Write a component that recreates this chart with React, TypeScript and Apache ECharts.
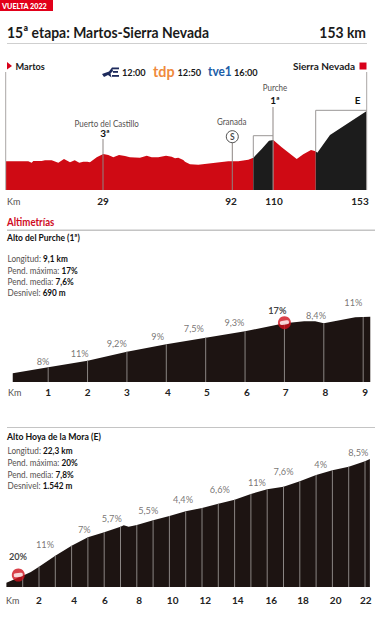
import React, { useEffect, useRef } from "react";
import * as echarts from "echarts";

const FONT = "Lato, 'Noto Sans', sans-serif";
const RED = "#cf0a14";
const DARK = "#1d1412";
const GREY = "#55514f";

// Stage profile: distance is the position along the (non-linear) drawn profile, elevation in metres
const stageDist = [0, 22.3, 25.7, 27.3, 35.7, 39, 45.7, 52.3, 58, 64, 68.7, 73.3, 77.3, 81.3, 84, 90.7, 97.3, 102.3, 107.3, 113, 119, 124, 134, 140.7, 145.7, 152.3, 160, 165.7, 169, 172.3, 177.3, 179, 184, 192.3, 222.3, 232.3, 242.3, 247.3, 255.7, 263, 267.3, 275.7, 290.7, 297.3, 305, 309.7, 311.3, 324, 360.7];
const stageElev = [918, 918, 874, 928, 928, 950, 950, 874, 992, 886, 950, 874, 906, 906, 886, 1046, 1152, 1120, 1046, 1120, 1088, 1046, 1034, 1098, 1046, 1046, 1098, 1066, 1014, 1034, 960, 906, 822, 810, 918, 918, 970, 1034, 1312, 1578, 1600, 1366, 992, 1142, 1280, 1238, 1194, 1760, 2528];
const stageClimbs = [[247.3, 267.3], [309.7, 360.7]];
const stageTickAt = [97, 225, 268, 354];
const stageTickNames = ["29", "92", "110", "153"];

// Stage furniture, in axis units [distance, elevation]
const stageFrame = [[[-0.3, 0], [-0.3, 3776]], [[360.7, 0], [360.7, 3776]]];
const stageLeaders = [[[97, 0], [97, 1632]], [[226.3, 0], [226.3, 1504]], [[267, 0], [267, 2656]]];
const stageBrackets = [
  [[247.3, 1034], [247.3, 1738], [267, 1738]],
  [[309.7, 1238], [309.7, 2550], [360.7, 2550]],
];
const sprintAt = [226.3, 1706];

// Alto del Purche
const purcheKm = [0.1, 1, 2, 3, 4, 5, 6, 7, 7.5, 7.78, 8, 8.8, 9, 9.18];
const purcheElev = [104, 176, 256, 364, 452, 532, 608, 704, 728, 728, 704, 776, 780, 784];
const purcheGridKm = [1, 2, 3, 4, 5, 6, 7, 8, 9];
const purcheTickAt = [1, 2, 3, 4.04, 5.03, 6.05, 7.03, 8.04, 9.05];
const purcheTickNames = ["1", "2", "3", "4", "5", "6", "7", "8", "9"];
const purcheGradeKm = [0.87, 1.8, 2.74, 3.78, 4.7, 5.73, 6.82, 7.8, 8.75];
const purcheGradeY = [244, 344, 464, 552, 640, 712, 864, 804, 952];
const purcheGrades = ["8%", "11%", "9,2%", "9%", "7,5%", "9,3%", "17%", "8,4%", "11%"];
const purcheSign = [7, 712];
const purcheStats = [["Longitud:", "9,1 km"], ["Pend. máxima:", "17%"], ["Pend. media:", "7,6%"], ["Desnivel:", "690 m"]];

// Alto Hoya de la Mora
const hoyaKm = [0, 1, 1.5, 2, 3, 4, 5, 6, 7, 7.2, 7.5, 8, 9, 10, 11, 12, 13, 14, 15, 16, 17, 18, 19, 20, 21, 22, 22.3];
const hoyaElev = [54, 140, 188, 254, 391, 516, 621, 684, 754, 771, 754, 775, 834, 888, 946, 988, 1041, 1091, 1163, 1221, 1254, 1321, 1400, 1459, 1504, 1571, 1600];
const hoyaGridKm = [1, 2, 3, 4, 5, 6, 7, 8, 9, 10, 11, 12, 13, 14, 15, 16, 17, 18, 19, 20, 21, 22];
const hoyaTickAt = [2, 4.15, 6.05, 8.15, 10.2, 12.2, 14.2, 16.25, 18.2, 20.2, 22.05];
const hoyaTickNames = ["2", "4", "6", "8", "10", "12", "14", "16", "18", "20", "22"];
const hoyaGradeKm = [0.71, 2.37, 4.78, 6.46, 8.7, 10.83, 13.09, 15.37, 17.0, 19.28, 21.59];
const hoyaGradeY = [379, 534, 725, 859, 959, 1088, 1216, 1304, 1450, 1534, 1684];
const hoyaGrades = ["20%", "11%", "7%", "5,7%", "5,5%", "4,4%", "6,6%", "11%", "7,6%", "4%", "8,5%"];
const hoyaSign = [0.73, 150];
const hoyaStats = [["Longitud:", "22,3 km"], ["Pend. máxima:", "20%"], ["Pend. media:", "7,8%"], ["Desnivel:", "1.542 m"]];

const statRich = {
  a: { fontFamily: FONT, fontSize: 10, fill: GREY, color: GREY },
  b: { fontFamily: FONT, fontSize: 10, fontWeight: 700, fill: "#111", color: "#111" },
};

function txt(x: number, y: number, text: string, size: number, weight: number | string, fill: string, align = "left", scaleX = 1) {
  return {
    type: "text", x, y, scaleX, silent: true,
    style: { text, fontFamily: FONT, fontSize: size, fontWeight: weight, fill, textAlign: align, textVerticalAlign: "middle" },
  };
}
function statBlock(stats: string[][], ys: number[]) {
  return stats.map((s, i) => ({
    type: "text", x: 7.5, y: ys[i], scaleX: 0.82, silent: true,
    style: { text: `{a|${s[0]}} {b|${s[1]}}`, rich: statRich, fontFamily: FONT, fontSize: 10, verticalAlign: "middle", textVerticalAlign: "middle" },
  }));
}
function seg(name: string, idx: number, data: number[][], color: string, width: number, z = 5) {
  return { name, type: "line", xAxisIndex: idx, yAxisIndex: idx, data, symbol: "none", silent: true, clip: false, z, lineStyle: { color, width }, tooltip: { show: false } };
}
function area(name: string, idx: number, data: number[][], color: string) {
  return { name, type: "line", xAxisIndex: idx, yAxisIndex: idx, data, symbol: "none", silent: true, z: 3, lineStyle: { width: 0 }, areaStyle: { color, opacity: 1 } };
}
function xAxis(idx: number, min: number, max: number, at: number[], names: string[], margin: number) {
  return {
    type: "value", gridIndex: idx, min, max,
    axisLine: { show: false }, axisTick: { show: false }, splitLine: { show: false },
    axisLabel: {
      show: true, customValues: at, margin, fontFamily: FONT, fontSize: 10, fontWeight: 700, color: "#222",
      hideOverlap: false,
      formatter: (v: number) => names[at.indexOf(v)] ?? "",
    },
  };
}
function yAxis(idx: number, max: number) {
  return { type: "value", gridIndex: idx, min: 0, max, show: false };
}
function grades(idx: number, kms: number[], ys: number[], labels: string[], boldLabel: string, boldKm: number) {
  return {
    type: "scatter", xAxisIndex: idx, yAxisIndex: idx, symbolSize: 0, silent: true, z: 8, clip: false,
    data: kms.map((k, i) => ({
      value: [k, ys[i]],
      label: {
        show: true, position: "inside", formatter: labels[i], fontFamily: FONT, fontSize: 9.2,
        fontWeight: labels[i] === boldLabel && k === boldKm ? 700 : 400,
        color: labels[i] === boldLabel && k === boldKm ? "#111" : GREY,
      },
    })),
  };
}
function sign(idx: number, p: number[]) {
  return [
    { type: "scatter", xAxisIndex: idx, yAxisIndex: idx, data: [p], symbol: "circle", symbolSize: 13, silent: true, z: 9, itemStyle: { color: "#d0101c" } },
    { type: "scatter", xAxisIndex: idx, yAxisIndex: idx, data: [p], symbol: "roundRect", symbolSize: [9, 4], symbolRotate: 8, silent: true, z: 10, itemStyle: { color: "#fff" } },
  ];
}

export default function App() {
  const ref = useRef<HTMLDivElement>(null);
  useEffect(() => {
    const chart = echarts.init(ref.current!, null, { renderer: "svg" });
    const stagePts = stageDist.map((d, i) => [d, stageElev[i]]);
    const inRange = (a: number, b: number) => stagePts.filter((p) => p[0] >= a && p[0] <= b);
    const purchePts = purcheKm.map((d, i) => [d, purcheElev[i]]);
    const hoyaPts = hoyaKm.map((d, i) => [d, hoyaElev[i]]);
    const lookup = (pts: number[][], k: number) => pts.find((p) => p[0] === k)![1];

    const series: any[] = [
      area("stage1", 0, inRange(0, stageClimbs[0][0]), RED),
      area("climb1", 0, inRange(stageClimbs[0][0], stageClimbs[0][1]), "#1c1c1c"),
      area("stage2", 0, inRange(stageClimbs[0][1], stageClimbs[1][0]), RED),
      area("climb2", 0, inRange(stageClimbs[1][0], stageClimbs[1][1]), "#1c1c1c"),
      ...stageFrame.map((d, i) => seg("frame" + i, 0, d, "#aaa7a5", 1)),
      ...stageLeaders.map((d, i) => seg("leader" + i, 0, d, "#8d8583", 1)),
      ...stageBrackets.map((d, i) => seg("bracket" + i, 0, d, "#9a9796", 1)),
      {
        type: "scatter", xAxisIndex: 0, yAxisIndex: 0, data: [sprintAt], symbol: "circle", symbolSize: 12, silent: true, z: 9,
        itemStyle: { color: "#fff", borderColor: "#222", borderWidth: 1 },
        label: { show: true, position: "inside", formatter: "S", fontFamily: FONT, fontSize: 8.5, fontWeight: 700, color: "#111" },
      },

      area("purche", 1, purchePts, DARK),
      ...purcheGridKm.map((k) => seg("pg" + k, 1, [[k, 0], [k, lookup(purchePts, k)]], "#8a8583", 1)),
      grades(1, purcheGradeKm, purcheGradeY, purcheGrades, "17%", 6.82),
      ...sign(1, purcheSign),

      area("hoya", 2, hoyaPts, DARK),
      ...hoyaGridKm.map((k) => seg("hg" + k, 2, [[k, 0], [k, lookup(hoyaPts, k)]], "#8a8583", 1)),
      grades(2, hoyaGradeKm, hoyaGradeY, hoyaGrades, "20%", 0.71),
      ...sign(2, hoyaSign),
    ];

    chart.setOption({
      animation: false,
      backgroundColor: "#fff",
      grid: [
        { left: 6, width: 361, top: 72, height: 118 },
        { left: 8.8, width: 367.35, top: 300, height: 82 },
        { left: 6.4, width: 366.75, top: 447, height: 140 },
      ],
      xAxis: [
        xAxis(0, 0, 361, stageTickAt, stageTickNames, 6),
        xAxis(1, 0, 9.3, purcheTickAt, purcheTickNames, 5),
        xAxis(2, 0, 22.5, hoyaTickAt, hoyaTickNames, 8),
      ],
      yAxis: [yAxis(0, 3776), yAxis(1, 984), yAxis(2, 1750)],
      series,
      graphic: [
        { type: "rect", shape: { x: 0, y: 0, width: 53, height: 11 }, style: { fill: "#e2001a" }, silent: true },
        txt(2, 5.8, "VUELTA 2022", 8, 900, "#fff", "left", 0.9),
        txt(7, 32, "15ª etapa: Martos-Sierra Nevada", 16, 700, "#1a1a1a", "left", 0.87),
        txt(366, 32, "153 km", 16, 700, "#1a1a1a", "right", 0.87),
        { type: "rect", shape: { x: 7, y: 43, width: 360, height: 1 }, style: { fill: "#cfcfcf" }, silent: true },
        { type: "polygon", shape: { points: [[7, 62], [12, 66], [7, 69.5]] }, style: { fill: "#d8001a" }, silent: true },
        txt(15.5, 66, "Martos", 10, 700, "#1a1a1a", "left", 0.92),
        txt(355, 66, "Sierra Nevada", 10, 700, "#1a1a1a", "right"),
        { type: "rect", shape: { x: 359.5, y: 62.5, width: 7, height: 7 }, style: { fill: "#d8001a" }, silent: true },
        { type: "polygon", shape: { points: [[102, 74], [109, 71.5], [112, 67.5], [113, 71], [110.5, 73.5], [111.5, 77.5], [108, 75], [104, 77]] }, style: { fill: "#1d2a5c" }, silent: true },
        { type: "rect", shape: { x: 112, y: 67.5, width: 7, height: 1.8 }, style: { fill: "#1d2a5c" }, silent: true },
        { type: "rect", shape: { x: 113, y: 71, width: 5, height: 1.8 }, style: { fill: "#1d2a5c" }, silent: true },
        { type: "rect", shape: { x: 112, y: 75, width: 7, height: 1.8 }, style: { fill: "#1d2a5c" }, silent: true },
        txt(122, 72, "12:00", 10, 700, "#1a1a1a", "left", 0.92),
        txt(153, 71, "tdp", 16, 700, "#ef8a3c", "left", 0.9),
        txt(177.5, 72, "12:50", 10, 700, "#1a1a1a", "left", 0.92),
        txt(208, 71, "tve1", 14, 700, "#1b5da8", "left", 0.85),
        txt(234, 72, "16:00", 10, 700, "#1a1a1a", "left", 0.92),
        txt(106.7, 123.3, "Puerto del Castillo", 10, 400, GREY, "center", 0.8),
        txt(105, 133.3, "3ª", 10, 700, "#111", "center"),
        txt(231.7, 120.7, "Granada", 10, 400, GREY, "center", 0.8),
        txt(275, 87, "Purche", 10, 400, GREY, "center", 0.8),
        txt(275, 100, "1ª", 10, 700, "#111", "center"),
        txt(357.7, 100, "E", 10, 700, "#111", "center"),
        txt(7, 201, "Km", 10, 400, GREY, "left", 0.9),
        txt(7, 221.5, "Altimetrías", 10.5, 700, "#cf0a1e", "left", 0.92),
        { type: "rect", shape: { x: 7, y: 229.5, width: 368, height: 1.5 }, style: { fill: "#c4c4c4" }, silent: true },
        txt(7, 237.5, "Alto del Purche (1ª)", 10, 700, "#111", "left", 0.85),
        ...statBlock(purcheStats, [258, 270, 281, 292.5]),
        txt(8, 392, "Km", 10, 400, GREY, "left", 0.9),
        { type: "rect", shape: { x: 7, y: 427, width: 368, height: 1 }, style: { fill: "#c4c4c4" }, silent: true },
        txt(7, 436, "Alto Hoya de la Mora (E)", 10, 700, "#111", "left", 0.87),
        ...statBlock(hoyaStats, [450.5, 462, 474, 485]),
        txt(6, 600, "Km", 10, 400, GREY, "left", 0.9),
      ],
    });
    return () => chart.dispose();
  }, []);
  return <div ref={ref} style={{ position: "absolute", left: 0, top: 0, width: 375, height: 619 }} />;
}
